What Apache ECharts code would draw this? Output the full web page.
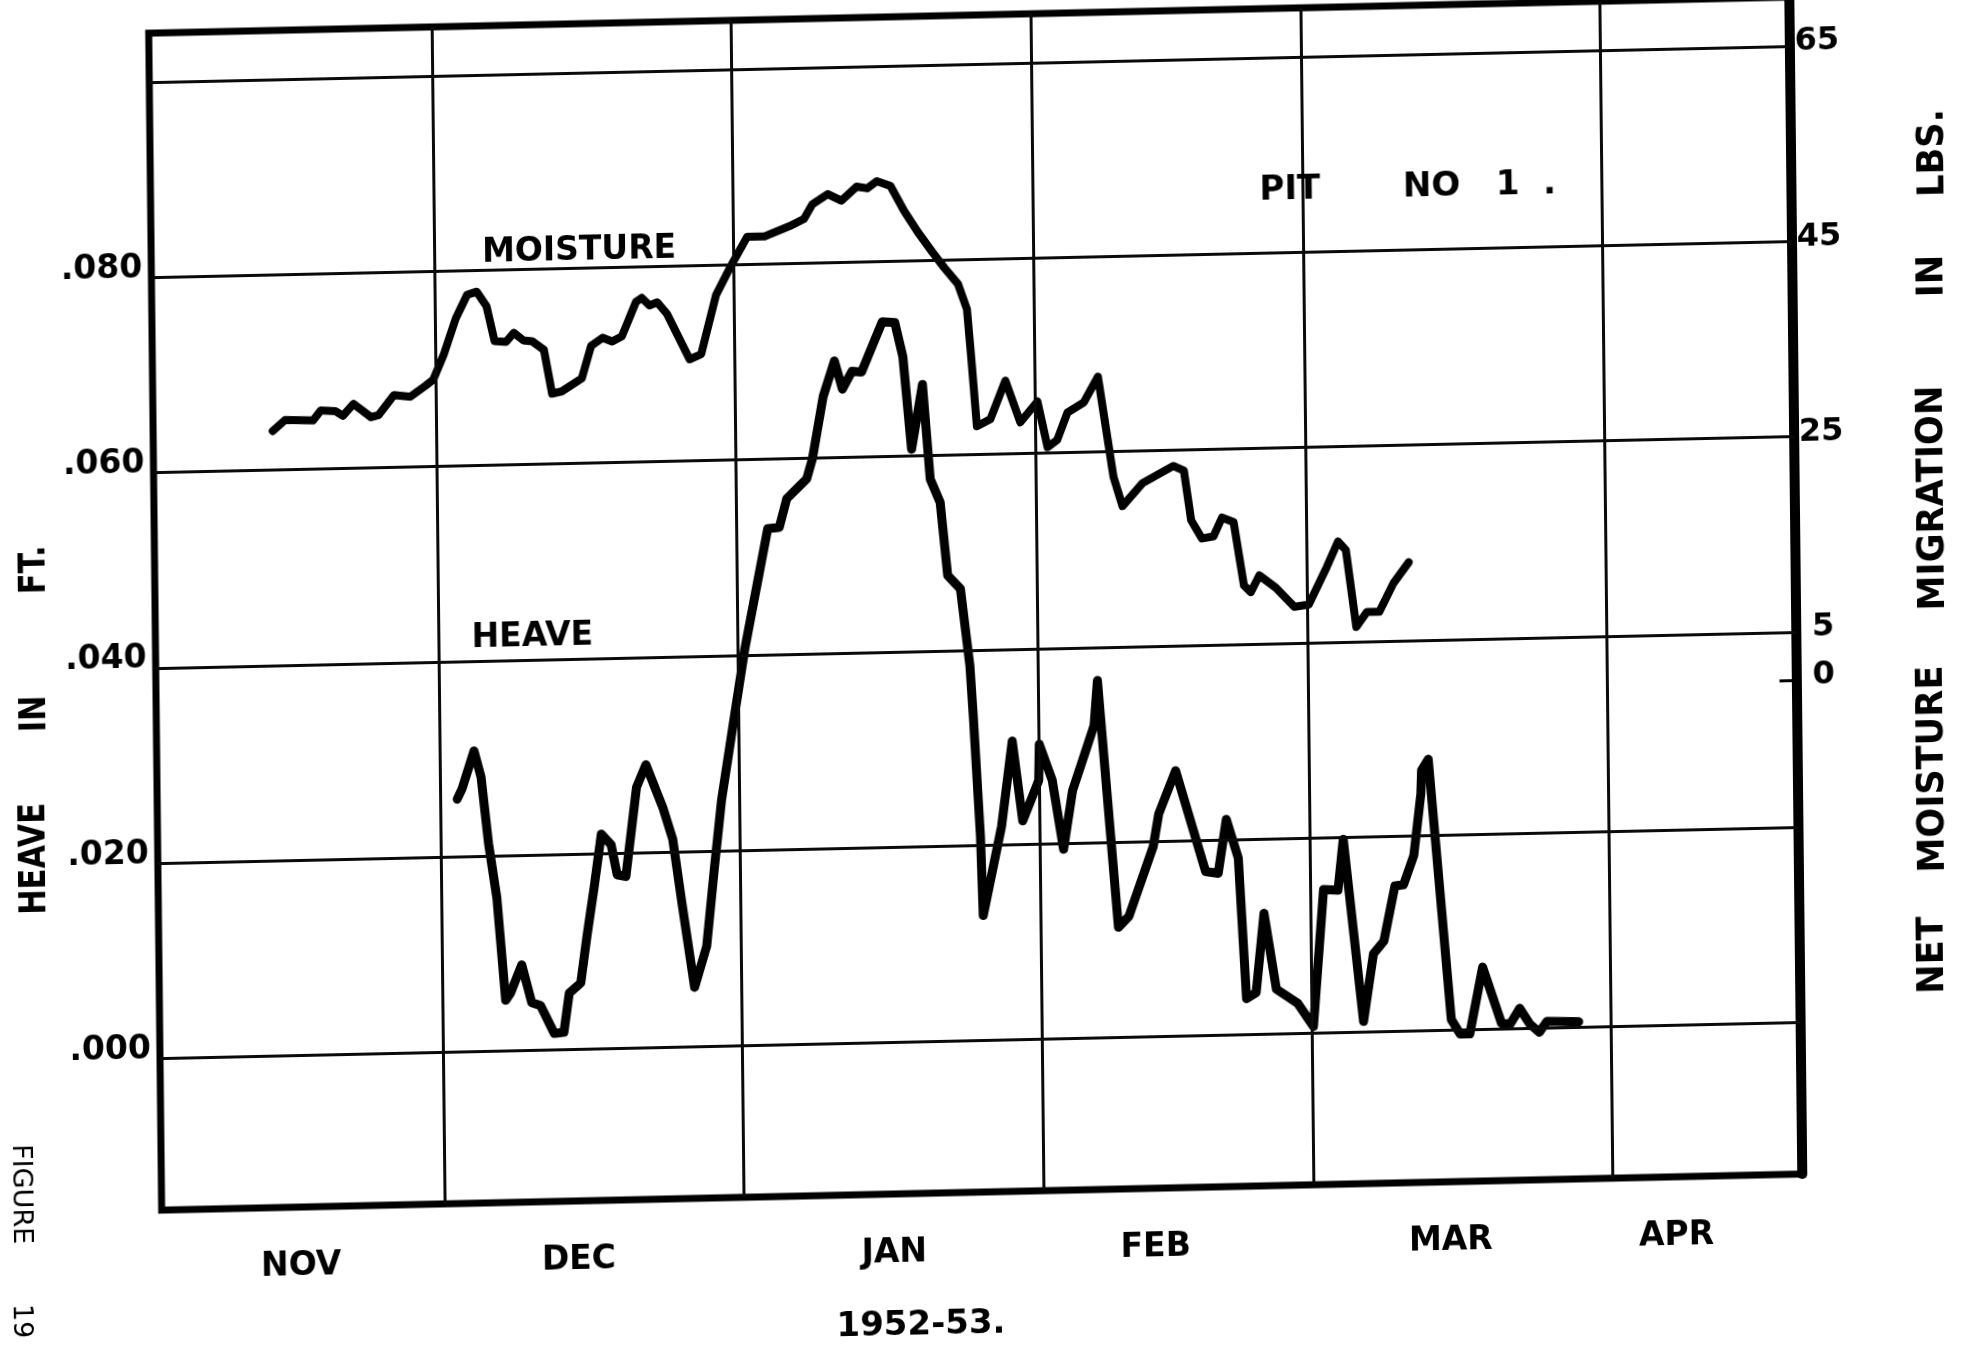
<!DOCTYPE html>
<html>
<head>
<meta charset="utf-8">
<title>Pit No. 1 - Heave and Net Moisture Migration, 1952-53</title>
<script src="https://cdn.jsdelivr.net/npm/echarts@6/dist/echarts.min.js"></script>
<style>
  html, body { margin: 0; padding: 0; background: #fff; overflow: hidden; }
  /* the sheet sits slightly askew on the page */
  #chart { width: 1965px; height: 1346px; transform-origin: 982.5px 673px; transform: matrix(1, -0.022, 0.011, 1, 0, 0); }
</style>
</head>
<body>
<div id="chart"></div>
<script>
// Time axis: days counted from 1 November 1952
const monthNames = ['NOV', 'DEC', 'JAN', 'FEB', 'MAR', 'APR'];
const monthLabelDays = [15.0, 43.8, 76.5, 103.6, 134.2, 157.6];
const monthStartDays = [30, 61, 92, 120, 151];

// Left scale: heave in feet; right scale: net moisture migration in lbs
const heaveTicks = [0, 0.02, 0.04, 0.06, 0.08];
const heaveGridValues = [0, 0.02, 0.04, 0.06, 0.08, 0.10];
const moistureTicks = [0, 5, 25, 45, 65];
const moistureZeroTick = 0;

const moistureDays = [
  13.0, 14.3, 17.2, 18.0, 19.5, 20.3, 21.4, 23.2, 24.0, 25.6,
  27.3, 28.9, 29.7, 30.8, 32.1, 33.3, 34.3, 35.3, 36.1, 37.3,
  38.1, 39.1, 40.0, 41.2, 42.0, 43.0, 45.1, 46.1, 47.3, 48.3,
  49.3, 50.8, 51.4, 52.2, 53.0, 54.0, 56.3, 57.5, 59.1, 60.7,
  62.4, 64.2, 66.8, 68.3, 69.2, 70.8, 72.2, 73.8, 74.9, 75.9,
  77.3, 78.7, 80.1, 81.6, 82.8, 84.2, 85.1, 85.5, 86.0, 87.4,
  89.0, 90.5, 92.3, 93.3, 94.3, 95.4, 97.1, 98.6, 100.1, 101.0,
  103.1, 106.3, 107.4, 108.1, 109.2, 110.4, 111.3, 112.5, 113.5, 114.2,
  115.1, 116.8, 118.7, 120.2, 122.1, 123.3, 124.1, 125.1, 126.2, 127.5,
  129.0, 130.6
];
const moistureLbs = [
  29.0, 30.1, 30.0, 31.0, 30.9, 30.4, 31.6, 30.2, 30.4, 32.4,
  32.2, 33.3, 33.9, 36.4, 40.1, 42.5, 42.8, 41.3, 37.7, 37.6,
  38.5, 37.7, 37.6, 36.7, 32.2, 32.4, 33.7, 37.0, 37.8, 37.4,
  37.9, 41.4, 41.8, 41.0, 41.3, 40.1, 35.4, 35.9, 41.9, 44.9,
  47.8, 47.8, 48.8, 49.5, 51.0, 52.0, 51.3, 52.7, 52.5, 53.2,
  52.7, 50.1, 47.9, 45.8, 44.2, 42.5, 39.9, 34.8, 27.9, 28.6,
  32.5, 28.2, 30.3, 25.6, 26.3, 29.1, 30.1, 32.7, 22.4, 19.4,
  21.7, 23.4, 22.9, 17.8, 15.9, 16.1, 18.0, 17.5, 11.0, 10.3,
  12.0, 10.7, 8.7, 8.9, 12.7, 15.3, 14.4, 6.5, 8.0, 8.0,
  10.9, 13.0
];

const heaveDays = [
  31.7, 32.2, 33.5, 34.2, 34.9, 35.7, 36.5, 37.0, 38.2, 39.2,
  40.1, 41.5, 42.5, 43.1, 44.3, 45.0, 45.8, 46.6, 47.6, 48.2,
  49.1, 50.3, 51.3, 53.0, 54.0, 54.9, 56.1, 57.4, 58.3, 59.1,
  60.5, 61.7, 64.2, 65.4, 66.2, 68.3, 68.9, 70.1, 71.3, 72.1,
  73.1, 74.1, 76.3, 77.6, 78.4, 79.2, 80.4, 81.1, 82.1, 82.8,
  84.1, 85.0, 85.3, 85.9, 86.1, 88.1, 89.3, 90.3, 92.0, 92.1,
  93.4, 94.5, 95.5, 97.8, 98.2, 100.1, 101.2,
  103.8, 104.4,
  106.2, 109.2, 110.5, 111.4, 112.6, 113.3, 114.3, 115.2, 116.4, 118.6,
  120.2, 121.4, 122.9, 123.5, 125.4, 126.5, 127.6, 128.8, 129.7, 130.8,
  131.6, 131.7, 132.4, 134.5, 135.4, 136.4, 137.8, 139.7, 140.6, 141.6,
  142.6, 143.6, 144.4, 147.7
];
const heaveFt = [
  0.0259, 0.0269, 0.0308, 0.0281, 0.0213, 0.0157, 0.0052, 0.0059, 0.0088, 0.0049,
  0.0046, 0.0017, 0.0018, 0.0058, 0.0068, 0.0116, 0.0166, 0.0220, 0.0209, 0.0178,
  0.0176, 0.0267, 0.0290, 0.0246, 0.0213, 0.0146, 0.0061, 0.0103, 0.0184, 0.0252,
  0.0336, 0.0407, 0.0529, 0.0530, 0.0559, 0.0579, 0.0599, 0.0663, 0.0699, 0.0670,
  0.0688, 0.0687, 0.0738, 0.0737, 0.0702, 0.0607, 0.0673, 0.0576, 0.0552, 0.0477,
  0.0463, 0.0384, 0.0331, 0.0209, 0.0128, 0.0219, 0.0306, 0.0224, 0.0265, 0.0302,
  0.0265, 0.0194, 0.0254, 0.0320, 0.0366, 0.0113, 0.0124,
  0.0195, 0.0228,
  0.0272, 0.0168, 0.0166, 0.0221, 0.0181, 0.0037, 0.0043, 0.0124, 0.0046, 0.0031,
  0.0007, 0.0147, 0.0146, 0.0198, 0.0011, 0.0080, 0.0093, 0.0149, 0.0150, 0.0180,
  0.0243, 0.0267, 0.0278, 0.0011, -0.0004, -0.0004, 0.0064, 0.0006, 0.0005, 0.0021,
  0.0005, -0.0004, 0.0007, 0.0006
];

const FONT = "'DejaVu Sans', 'Liberation Sans', sans-serif";
const INK = '#000';
const X_MIN = 0.6, X_MAX = 170.7;

// free-standing lettering on the sheet
function lettering(text, x, y, size, rotation, weight, squeeze) {
  return {
    type: 'text', x: x, y: y, rotation: rotation || 0, silent: true, z: 10,
    scaleX: squeeze || 1,
    style: {
      text: text, fill: INK,
      fontSize: size, fontFamily: FONT, fontWeight: weight || 'bold',
      align: 'center', verticalAlign: 'middle',
      textAlign: 'center', textVerticalAlign: 'middle'
    }
  };
}
const UP = Math.PI / 2;
const DOWN = -Math.PI / 2;

const chart = echarts.init(document.getElementById('chart'), null, { renderer: 'canvas' });

chart.setOption({
  animation: false,
  backgroundColor: '#fff',
  grid: {
    left: 156, top: 15, width: 1641, height: 1177,
    show: true, borderColor: INK, borderWidth: 7, backgroundColor: 'transparent'
  },
  xAxis: {
    type: 'value', min: X_MIN, max: X_MAX,
    axisLine: { show: false }, axisTick: { show: false }, splitLine: { show: false },
    axisLabel: {
      customValues: monthLabelDays,
      formatter: function (v) { return monthNames[monthLabelDays.indexOf(v)]; },
      margin: 59, verticalAlign: 'middle', hideOverlap: false,
      fontSize: 33, fontWeight: 'bold', fontFamily: FONT, color: INK
    },
    name: '1952-53.', nameLocation: 'middle', nameGap: 132,
    nameTextStyle: {
      fontSize: 34, fontWeight: 'bold', fontFamily: FONT, color: INK,
      verticalAlign: 'middle', padding: [0, 125, 0, 0]
    }
  },
  yAxis: [
    {
      type: 'value', position: 'left', min: -0.0155, max: 0.105,
      axisLine: { show: false }, axisTick: { show: false }, splitLine: { show: false },
      axisLabel: {
        customValues: heaveTicks, margin: 9, hideOverlap: false,
        formatter: function (v) {
          return '{t|.' + String(Math.round(v * 1000)).padStart(3, '0') + '}\n{g| }';
        },
        rich: {
          t: { fontSize: 33, lineHeight: 12, fontWeight: 'bold', fontFamily: FONT, color: INK },
          g: { fontSize: 2, lineHeight: 18 }
        }
      }
    },
    {
      type: 'value', position: 'right', min: -50.5, max: 70,
      axisLine: { show: true, onZero: false, lineStyle: { color: INK, width: 10 } },
      axisTick: { show: false },
      splitLine: { show: false },
      axisLabel: {
        customValues: moistureTicks, margin: 27, align: 'center', hideOverlap: false,
        formatter: function (v) {
          // hand-lettered figures sit a little above their levels
          if (v === 0) return '{t|0}\n{g0| }';
          if (v === 5) return '{t|5}\n{g5| }';
          return '{t|' + v + '}\n{g| }';
        },
        rich: {
          t: { fontSize: 32, lineHeight: 10, fontWeight: 'bold', fontFamily: FONT, color: INK },
          g: { fontSize: 2, lineHeight: 8 },
          g5: { fontSize: 2, lineHeight: 8 },
          g0: { fontSize: 2, lineHeight: 10 }
        }
      }
    }
  ],
  series: [
    {
      name: 'HEAVE', type: 'line', yAxisIndex: 0, z: 3,
      symbol: 'none', showSymbol: false,
      lineStyle: { color: INK, width: 9, join: 'round', cap: 'round' },
      data: heaveDays.map(function (d, i) { return [d, heaveFt[i]]; }),
      markLine: {
        silent: true, symbol: ['none', 'none'], label: { show: false },
        lineStyle: { color: '#0a0a0a', width: 3, type: 'solid' },
        emphasis: { disabled: true },
        data: heaveGridValues.map(function (v) { return { yAxis: v }; })
          .concat(monthStartDays.map(function (d) { return { xAxis: d }; }))
      }
    },
    {
      name: 'MOISTURE', type: 'line', yAxisIndex: 1, z: 3,
      symbol: 'none', showSymbol: false,
      lineStyle: { color: INK, width: 8, join: 'round', cap: 'round' },
      data: moistureDays.map(function (d, i) { return [d, moistureLbs[i]]; }),
      // short inward tick marking zero migration on the right-hand scale
      markLine: {
        silent: true, symbol: ['none', 'none'], label: { show: false },
        lineStyle: { color: INK, width: 3, type: 'solid' },
        emphasis: { disabled: true },
        data: [[{ coord: [X_MAX - 1.8, moistureZeroTick] }, { coord: [X_MAX, moistureZeroTick] }]]
      }
    }
  ],
  graphic: [
    lettering('MOISTURE', 584, 242, 33),
    lettering('HEAVE', 533, 627, 33),
    {
      type: 'text', x: 1265, y: 197, silent: true, z: 10,
      style: {
        text: 'PIT       NO   1  .', fill: INK, fontSize: 34, fontWeight: 'bold', fontFamily: FONT,
        align: 'left', verticalAlign: 'middle', textAlign: 'left', textVerticalAlign: 'middle'
      }
    },
    // left scale title
    lettering('HEAVE', 33, 838, 37, UP, 'bold', 0.82),
    lettering('IN', 35, 693, 37, UP, 'bold', 0.82),
    lettering('FT.', 36, 549, 37, UP, 'bold', 0.82),
    // right scale title
    lettering('NET', 1930, 976, 37, UP, 'bold', 0.95),
    lettering('MOISTURE', 1932, 790, 37, UP, 'bold', 0.95),
    lettering('MIGRATION', 1935, 519, 37, UP, 'bold', 0.95),
    lettering('IN', 1937, 297, 37, UP, 'bold', 0.95),
    lettering('LBS.', 1939, 174, 37, UP, 'bold', 0.95),
    // sheet number
    lettering('FIGURE', 15, 1173, 27, DOWN, 'normal'),
    lettering('19', 14, 1300, 27, DOWN, 'normal')
  ]
});
</script>
</body>
</html>
